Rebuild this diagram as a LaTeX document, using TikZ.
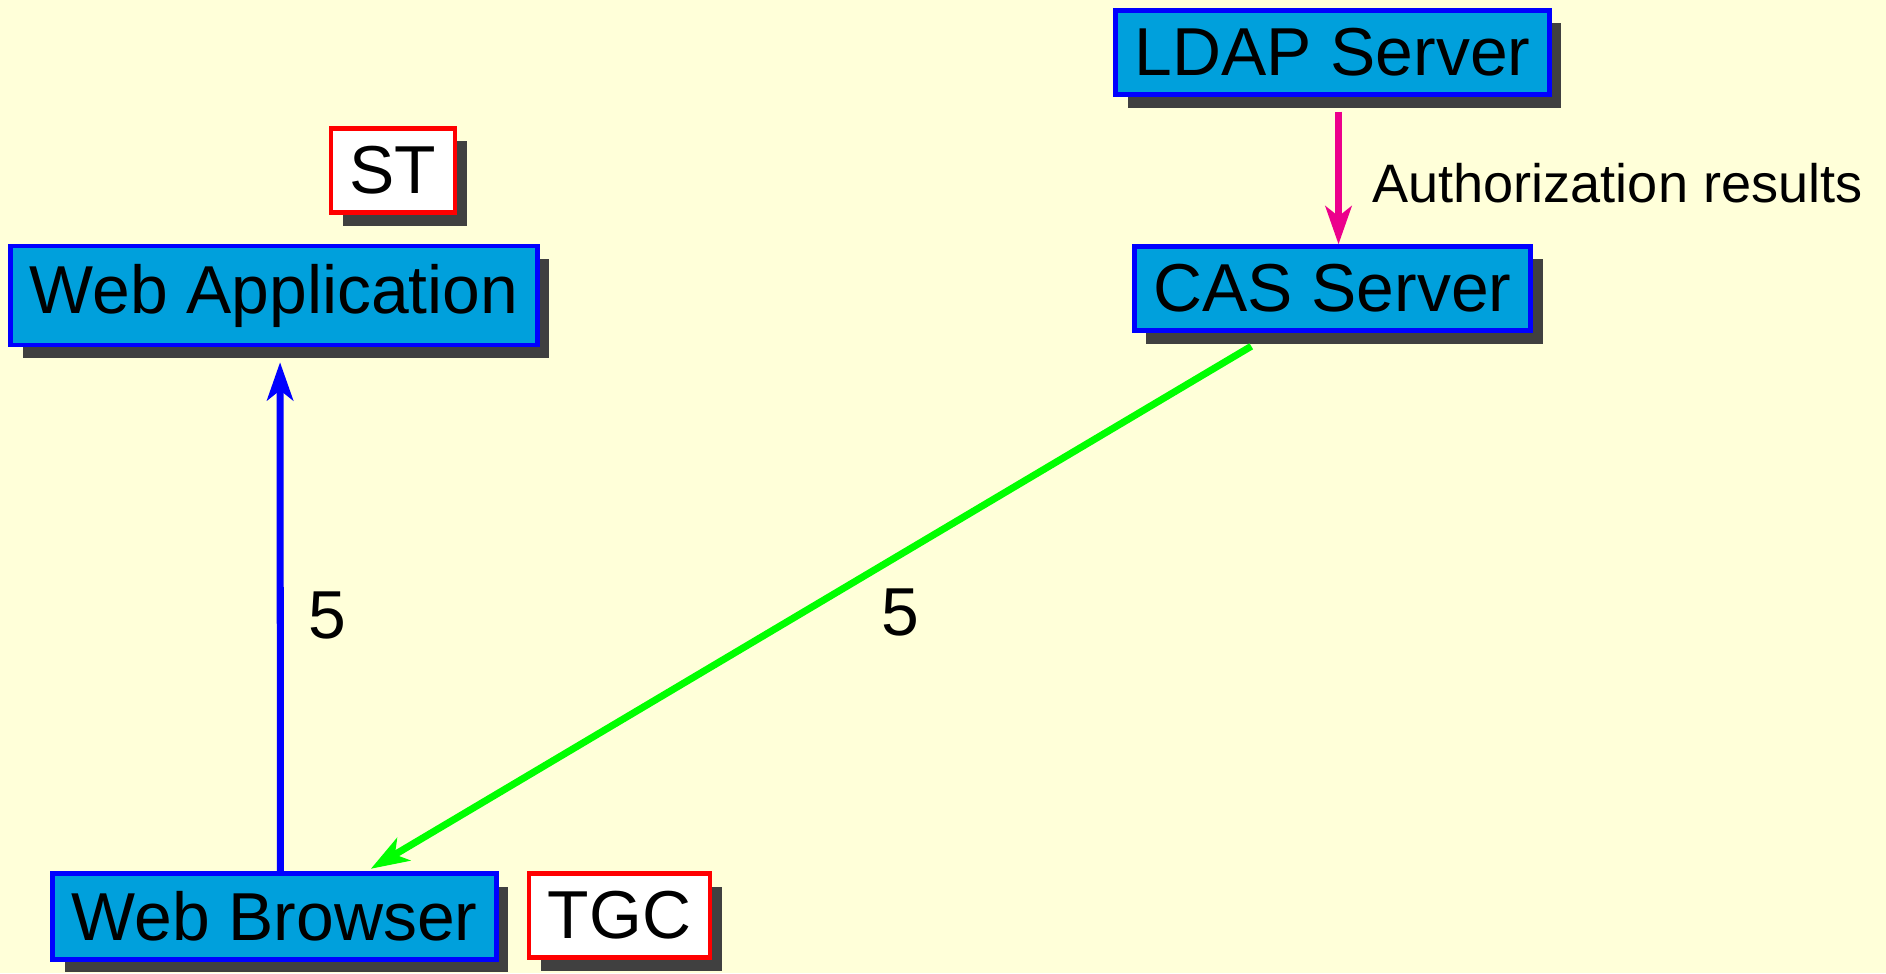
\documentclass[tikz,border=0pt]{standalone}
\usepackage{fontspec}
\setmainfont{Liberation Sans}
\usetikzlibrary{arrows.meta,shadows}
\definecolor{paper}{RGB}{255,255,217}
\definecolor{boxfill}{RGB}{0,160,220}
\definecolor{shadowgray}{RGB}{64,64,64}
\definecolor{authpink}{RGB}{236,0,140}

\begin{document}
\begin{tikzpicture}[
    server/.style={draw=blue, line width=1.2pt, fill=boxfill, inner xsep=0.19cm, inner ysep=0.18cm,
        font=\fontsize{19.3}{23}\selectfont,
        drop shadow={shadow xshift=0.12cm, shadow yshift=-0.13cm, fill=shadowgray, opacity=1}},
    ticket/.style={server, draw=red, fill=white},
    flow/.style={line width=2pt, -{Stealth[length=0.38cm, width=0.26cm, inset=0.1cm]},
        transform canvas={xshift=0.06cm, yshift=-0.06cm}}
  ]
         % Background
         \fill[paper] (0,0) rectangle (18.86,-9.73);
         \useasboundingbox (0,0) rectangle (18.86,-9.73);

         % Define nodes
         \node[server] (ldap) at (13.325,-0.525) {LDAP Server};
         \node[server] (cas) at (13.325,-2.885) {CAS Server};
         \node[ticket] (st) at (3.93,-1.705) {ST};
         \node[server] (webapp) at (2.74,-2.955) {Web Application};
         \node[server] (browser) at (2.745,-9.165) {Web Browser};
         \node[ticket] (tgc) at (6.195,-9.155) {TGC};

         % Draw edges
         \draw[flow, authpink, shorten <=0.09cm, shorten >=0.06cm] (ldap) -- (cas)
             node[midway, right=0.185cm, yshift=-0.065cm, black, font=\fontsize{15.4}{18}\selectfont] {Authorization results};
         \draw[flow, blue, shorten <=0.06cm, shorten >=0.09cm] (browser) -- (webapp)
             node[midway, right=0.13cm, black, font=\fontsize{19.3}{23}\selectfont] {5};
         \draw[flow, green, shorten <=0.15cm, shorten >=0.17cm] (cas) -- (browser)
             node[midway, xshift=0.9cm, yshift=-0.045cm, black, font=\fontsize{19.3}{23}\selectfont] {5};
\end{tikzpicture}
\end{document}
